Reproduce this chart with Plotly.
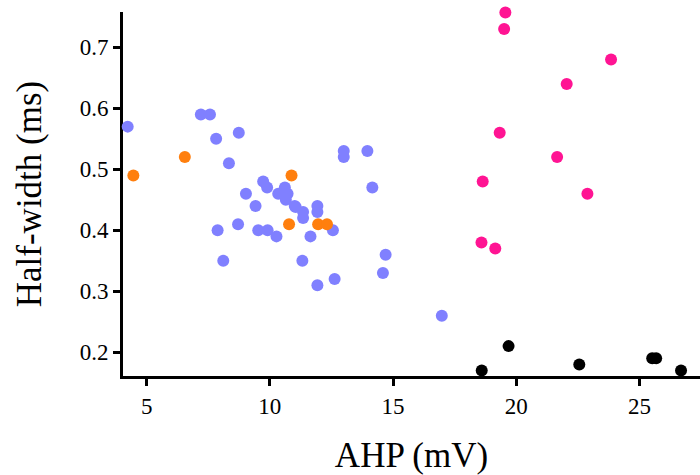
import plotly.graph_objects as go

# AHP amplitude (mV) vs spike half-width (ms), four cell groups
blue_ahp = [4.23, 7.2, 7.57, 7.82, 8.74, 8.34, 9.03, 9.73, 9.89, 10.61, 10.34, 10.72,
            10.65, 11.01, 11.05, 11.35, 11.93, 11.93, 11.35, 9.42, 8.71, 7.88, 9.53, 9.91,
            10.27, 11.65, 12.56, 8.11, 11.32, 11.93, 12.63, 13.0, 13.0, 13.96, 14.16,
            14.7, 14.59, 16.98]
blue_hw = [0.57, 0.59, 0.59, 0.55, 0.56, 0.51, 0.46, 0.48, 0.47, 0.47, 0.46, 0.46,
           0.45, 0.44, 0.438, 0.43, 0.44, 0.43, 0.42, 0.44, 0.41, 0.40, 0.40, 0.40,
           0.39, 0.39, 0.40, 0.35, 0.35, 0.31, 0.32, 0.53, 0.52, 0.53, 0.47,
           0.36, 0.33, 0.26]

orange_ahp = [4.46, 6.55, 10.88, 10.78, 11.96, 12.32]
orange_hw = [0.49, 0.52, 0.49, 0.41, 0.41, 0.41]

pink_ahp = [19.56, 19.51, 23.85, 22.05, 19.33, 21.66, 18.64, 22.89, 18.59, 19.15]
pink_hw = [0.757, 0.73, 0.68, 0.64, 0.56, 0.52, 0.48, 0.46, 0.38, 0.37]

black_ahp = [18.6, 19.69, 22.56, 25.52, 25.68, 26.69]
black_hw = [0.17, 0.21, 0.18, 0.19, 0.19, 0.17]

x_ticks = [5, 10, 15, 20, 25]
y_ticks = [0.2, 0.3, 0.4, 0.5, 0.6, 0.7]

FONT = "Liberation Serif, Georgia, serif"

fig = go.Figure()
for xs, ys, col in [(blue_ahp, blue_hw, "#8080ff"),
                    (orange_ahp, orange_hw, "#ff7f0e"),
                    (pink_ahp, pink_hw, "#ff1493"),
                    (black_ahp, black_hw, "#000000")]:
    fig.add_trace(go.Scatter(x=xs, y=ys, mode="markers", cliponaxis=False,
                             marker=dict(size=12, color=col, line=dict(width=0)),
                             showlegend=False, hoverinfo="x+y"))

fig.update_layout(
    width=700, height=475,
    margin=dict(l=123, r=0, t=12, b=99),
    paper_bgcolor="white", plot_bgcolor="white",
    font=dict(family=FONT, color="black"),
)
fig.update_xaxes(
    range=[4.04, 27.46], tickvals=x_ticks, ticktext=[str(v) for v in x_ticks],
    showgrid=False, zeroline=False, layer="below traces",
    showline=True, linecolor="black", linewidth=3,
    ticks="outside", ticklen=7, tickwidth=3, tickcolor="black",
    tickfont=dict(size=23, family=FONT),
    title=dict(text="AHP (mV)", font=dict(size=35, family=FONT), standoff=26),
)
fig.update_yaxes(
    range=[0.161, 0.758], tickvals=y_ticks, ticktext=[f"{v:.1f}" for v in y_ticks],
    showgrid=False, zeroline=False, layer="below traces",
    showline=True, linecolor="black", linewidth=3,
    ticks="outside", ticklen=7, tickwidth=3, tickcolor="black",
    tickfont=dict(size=23, family=FONT),
    title=dict(text="Half-width (ms)", font=dict(size=35, family=FONT), standoff=28),
)

fig.write_html("out.html")
